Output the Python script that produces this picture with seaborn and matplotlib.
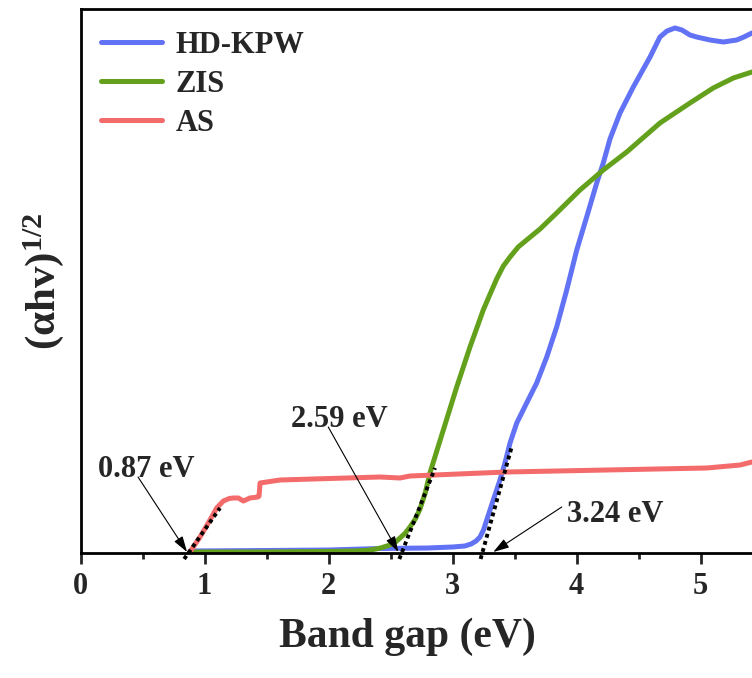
import matplotlib
matplotlib.use("Agg")
import matplotlib.pyplot as plt
import pandas as pd
import seaborn as sns
from matplotlib.ticker import FixedLocator

# Tauc plot data: photon energy (eV) vs (αhν)^1/2 (arbitrary units)
kpw_x = [0.891, 1.5, 2.0, 2.415, 2.8, 3.0, 3.1, 3.15, 3.19, 3.222, 3.25, 3.276,
         3.329, 3.383, 3.423, 3.464, 3.518, 3.598, 3.679, 3.760, 3.840, 3.921,
         4.002, 4.082, 4.163, 4.216, 4.270, 4.351, 4.458, 4.593, 4.673, 4.73,
         4.794, 4.85, 4.915, 4.969, 5.077, 5.184, 5.292, 5.35, 5.415]
kpw_y = [2, 2.5, 3, 4.5, 5, 6, 7, 9, 12, 16, 23, 33,
         53, 73, 90, 110, 130, 150, 170, 196, 226, 263,
         303, 336, 370, 390, 414, 440, 466, 496, 516, 522,
         525, 523, 518, 516, 513, 511, 513, 516, 520]

zis_x = [0.9, 1.5, 2.0, 2.2, 2.3, 2.361, 2.42, 2.496, 2.54, 2.577, 2.62, 2.657,
         2.70, 2.738, 2.78, 2.818, 2.926, 3.034, 3.141, 3.248, 3.30, 3.356,
         3.41, 3.464, 3.53, 3.598, 3.706, 3.840, 4.028, 4.216, 4.405, 4.673,
         4.915, 5.103, 5.265, 5.415]
zis_y = [1, 1, 1.5, 2, 2.5, 3.5, 5, 8, 11, 15, 20, 26,
         34, 44, 60, 80, 123, 166, 206, 243, 258, 274,
         287, 296, 306, 313, 324, 340, 363, 383, 401, 430,
         450, 465, 475, 481]

as_x = [0.877, 0.964, 1.044, 1.098, 1.152, 1.20, 1.232, 1.273, 1.313, 1.367,
        1.431, 1.440, 1.448, 1.502, 1.609, 1.875, 2.415, 2.577, 2.657, 3.437,
        4.244, 5.05, 5.32, 5.415]
as_y = [0, 16, 33, 45, 52, 54.5, 55, 55, 52, 55,
        56, 57, 70, 71, 73, 74, 76, 75, 77, 81,
        83, 85, 88, 91]

series_names = ["HD-KPW", "ZIS", "AS"]
series_colors = ["#6272f4", "#63a11c", "#f36b6b"]

# band gaps from the tangent intercepts, and the upper end of each tangent
band_gaps = [3.24, 2.59, 0.87]
gap_labels = ["3.24 eV", "2.59 eV", "0.87 eV"]
tangent_top_x = [3.477, 2.859, 1.125]
tangent_top_y = [106, 85, 45]

x_ticks = [0, 1, 2, 3, 4, 5]
x_tick_labels = ["0", "1", "2", "3", "4", "5"]

sns.set_style("ticks")
plt.rcParams["font.family"] = ["Liberation Serif", "DejaVu Serif"]
plt.rcParams["font.weight"] = "bold"
plt.rcParams["mathtext.fontset"] = "custom"
plt.rcParams["mathtext.bf"] = "Liberation Serif:bold"
plt.rcParams["mathtext.rm"] = "Liberation Serif:bold"
plt.rcParams["mathtext.it"] = "Liberation Serif:bold"

df = pd.concat([
    pd.DataFrame({"E": xs, "F": ys, "sample": name})
    for name, xs, ys in zip(series_names, [kpw_x, zis_x, as_x], [kpw_y, zis_y, as_y])
], ignore_index=True)

fig = plt.figure(figsize=(7.52, 6.78), dpi=100)
# the frame runs past the right edge of the canvas
ax = fig.add_axes([80.5 / 752, 125 / 678, 6 * 124 / 752, 544 / 678])

sns.lineplot(data=df, x="E", y="F", hue="sample", hue_order=series_names,
             palette=dict(zip(series_names, series_colors)), sort=False,
             estimator=None, linewidth=3.6, ax=ax)

# Tauc tangents, extended slightly below the axis
for gap, tx, ty in zip(band_gaps, tangent_top_x, tangent_top_y):
    slope = ty / (tx - gap)
    yb = -6
    xb = gap + yb / slope
    ax.plot([xb, tx], [yb, ty], color="black", lw=2.8,
            linestyle=(0, (1, 0.9)), dash_capstyle="butt", clip_on=False, zorder=5)

# gap labels with pointer arrows
label_pos = [(3.921, 31), (1.697, 126), (0.141, 76)]
arrow_tail = [(3.881, 46), (1.998, 126), (0.464, 76)]
arrow_tip = [(3.329, 1), (2.563, 1), (0.859, 1)]
for lab, pos, tail, tip in zip(gap_labels, label_pos, arrow_tail, arrow_tip):
    ax.text(pos[0], pos[1], lab, fontsize=22, fontweight="bold",
            ha="left", va="baseline")
    ax.annotate("", xy=tip, xytext=tail,
                arrowprops=dict(arrowstyle="-|>,head_length=0.8,head_width=0.25",
                                color="black", lw=0.8, shrinkA=0, shrinkB=0,
                                mutation_scale=12))

ax.set_xlim(0, 6)
ax.set_ylim(0, 544)
ax.xaxis.set_major_locator(FixedLocator(x_ticks))
ax.set_xticklabels(x_tick_labels)
ax.xaxis.set_minor_locator(FixedLocator([0.5, 1.5, 2.5, 3.5, 4.5, 5.5]))
ax.set_yticks([])
ax.tick_params(axis="x", which="major", direction="out", length=8, width=2,
               labelsize=22, pad=6)
ax.tick_params(axis="x", which="minor", direction="out", length=4, width=2)
for sp in ax.spines.values():
    sp.set_linewidth(2)
    sp.set_color("black")

ax.set_xlabel("Band gap (eV)", fontsize=30, fontweight="bold")
ax.xaxis.set_label_coords(0.439, -0.119)
ax.set_ylabel(r"(αhv)$^{\mathbf{1/2}}$", fontsize=31, fontweight="bold")
ax.yaxis.set_label_coords(-0.02, 0.5)

ax.legend(loc="upper left", bbox_to_anchor=(101 / 752, 0.9543),
          bbox_transform=fig.transFigure, frameon=False, fontsize=22,
          handlelength=2.0, handletextpad=0.45, labelspacing=0.33,
          borderpad=0, borderaxespad=0)

fig.savefig("out.png", dpi=100)
